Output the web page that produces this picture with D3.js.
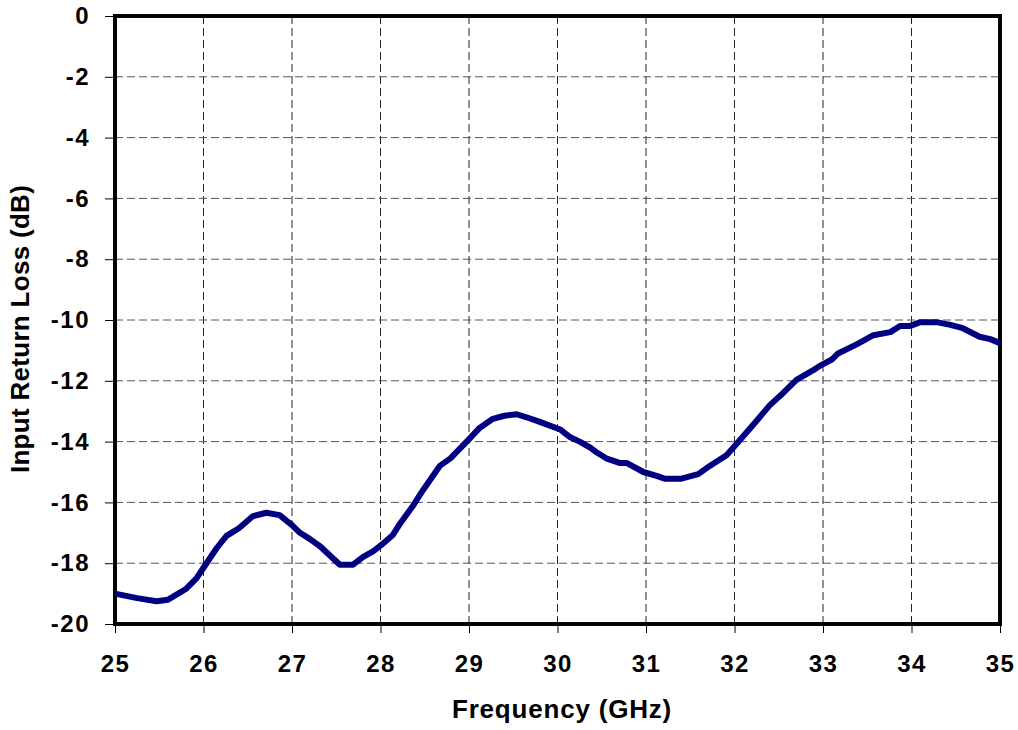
<!DOCTYPE html>
<html lang="en">
<meta charset="UTF-8">
<title>Input Return Loss</title>
<script src="https://d3js.org/d3.v7.min.js"></script>
<style>
body {margin:0; background:#fff;}
text {font-family: "Liberation Sans", Arial, sans-serif; font-weight:bold; fill:#000;}
</style>
<body>
<div id="chart"></div>
<script>
// frequency (GHz) and input return loss (dB)
var freq = [25.0, 25.25, 25.47, 25.6, 25.8, 25.92, 26.0, 26.15, 26.26, 26.4, 26.56, 26.71, 26.86, 27.0, 27.09, 27.2, 27.32,
            27.54, 27.69, 27.8, 27.92, 28.01, 28.14, 28.22, 28.37, 28.48, 28.67, 28.79, 28.99, 29.12, 29.27, 29.4, 29.54,
            29.65, 29.8, 30.03, 30.14, 30.25, 30.37, 30.44, 30.55, 30.7, 30.78, 30.97, 31.12, 31.21, 31.4, 31.59, 31.72,
            31.91, 32.0, 32.18, 32.4, 32.55, 32.7, 32.89, 32.97, 33.1, 33.17, 33.38, 33.57, 33.76, 33.87, 33.98, 34.1,
            34.28, 34.44, 34.58, 34.77, 34.89, 35.0];
var loss = [-19.0, -19.15, -19.25, -19.2, -18.85, -18.5, -18.15, -17.5, -17.1, -16.85, -16.45, -16.34, -16.42, -16.75, -17.0, -17.2, -17.45,
            -18.05, -18.05, -17.8, -17.6, -17.4, -17.07, -16.7, -16.1, -15.6, -14.8, -14.55, -13.95, -13.55, -13.25, -13.15, -13.1,
            -13.2, -13.35, -13.6, -13.85, -14.0, -14.2, -14.35, -14.55, -14.7, -14.7, -15.0, -15.13, -15.22, -15.22, -15.07, -14.8,
            -14.45, -14.15, -13.55, -12.8, -12.4, -11.97, -11.65, -11.5, -11.3, -11.1, -10.8, -10.5, -10.4, -10.2, -10.2, -10.07,
            -10.07, -10.16, -10.27, -10.55, -10.63, -10.76];
var xTicks = [25, 26, 27, 28, 29, 30, 31, 32, 33, 34, 35];
var yTicks = [0, -2, -4, -6, -8, -10, -12, -14, -16, -18, -20];

var W = 1018, H = 730;
var m = {left: 115, top: 16, right: 18, bottom: 106};

var svg = d3.select("#chart").append("svg")
    .attr("width", W).attr("height", H);

var x = d3.scaleLinear().domain([25, 35]).range([m.left, W - m.right]);
var y = d3.scaleLinear().domain([-20, 0]).range([H - m.bottom, m.top]);

// dashed grid
svg.append("g").selectAll("line.vg")
    .data(xTicks.slice(1, -1)).enter().append("line")
    .attr("x1", d => x(d)).attr("x2", d => x(d))
    .attr("y1", m.top).attr("y2", H - m.bottom)
    .attr("stroke", "#222").attr("stroke-width", 1).attr("stroke-dasharray", "8,4");
svg.append("g").selectAll("line.hg")
    .data(yTicks.slice(1, -1)).enter().append("line")
    .attr("x1", m.left).attr("x2", W - m.right)
    .attr("y1", d => y(d)).attr("y2", d => y(d))
    .attr("stroke", "#555").attr("stroke-width", 1).attr("stroke-dasharray", "8,4");

// axes (plain hyphen for minus, like the original)
var fmt = d => String(d);
var xAxis = svg.append("g")
    .attr("transform", "translate(0," + (H - m.bottom) + ")")
    .call(d3.axisBottom(x).tickValues(xTicks).tickSize(9).tickPadding(22).tickFormat(fmt));
var yAxis = svg.append("g")
    .attr("transform", "translate(" + m.left + ",0)")
    .call(d3.axisLeft(y).tickValues(yTicks).tickSize(10).tickPadding(15).tickFormat(fmt));
[xAxis, yAxis].forEach(function(a) {
  a.select(".domain").remove();
  a.attr("font-size", null).attr("font-family", null);
  a.selectAll(".tick line").attr("stroke", "#000").attr("stroke-width", 1);
  a.selectAll(".tick text")
    .style("font-size", "24px")
    .style("letter-spacing", "1.5px")
    .style("font-weight", "bold");
});

// plot frame
svg.append("rect")
    .attr("x", m.left).attr("y", m.top)
    .attr("width", W - m.right - m.left).attr("height", H - m.bottom - m.top)
    .attr("fill", "none").attr("stroke", "#000").attr("stroke-width", 4);

// curve
var line = d3.line()
    .x((d, i) => x(freq[i]))
    .y(d => y(d));
svg.append("path")
    .datum(loss)
    .attr("d", line)
    .attr("fill", "none")
    .attr("stroke", "#000080")
    .attr("stroke-width", 6)
    .attr("stroke-linejoin", "round");

// axis titles
svg.append("text")
    .attr("x", 562).attr("y", 718)
    .attr("text-anchor", "middle").style("font-size", "26px").style("letter-spacing", "0.8px")
    .text("Frequency (GHz)");
svg.append("text")
    .attr("transform", "translate(29,329) rotate(-90)")
    .attr("text-anchor", "middle").style("font-size", "26px").style("letter-spacing", "0.3px")
    .text("Input Return Loss (dB)");
</script>
</body>
</html>
